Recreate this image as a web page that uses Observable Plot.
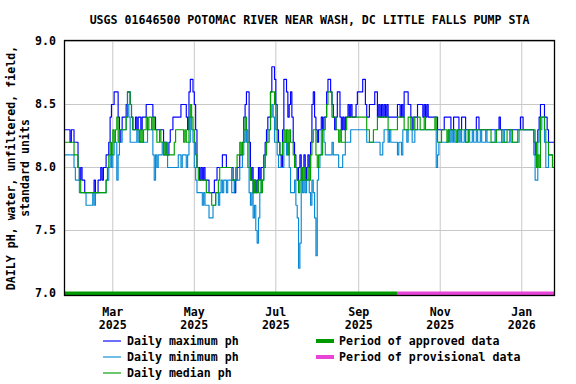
<!DOCTYPE html>
<html><head><meta charset="utf-8">
<script src="https://cdn.jsdelivr.net/npm/d3@7"></script>
<script src="https://cdn.jsdelivr.net/npm/@observablehq/plot@0.6"></script>
<style>
html,body{margin:0;padding:0;background:#fff;}
#chart{width:576px;height:384px;overflow:hidden;}
</style></head><body><div id="chart"></div>
<script>
const chartTitle = "USGS 01646500 POTOMAC RIVER NEAR WASH, DC LITTLE FALLS PUMP STA";
const yLabelLines = ["DAILY pH, water, unfiltered, field,", "standard units"];
const firstDay = "2025-01-24";
const seriesNames = ["Daily maximum ph", "Daily minimum ph", "Daily median ph"];
const seriesColors = ["#0000ff", "#0a8ad4", "#00a000"];

const dailyMax = [
8.3,8.3,8.3,8.3,8.2,8.3,8.3,8.2,8.2,8.2,
8.0,7.9,8.0,7.9,7.9,7.8,7.8,7.8,7.8,7.8,
7.8,7.8,7.9,7.8,7.8,7.9,7.9,8.0,7.9,8.0,
8.0,8.1,8.1,8.2,8.4,8.5,8.5,8.6,8.6,8.6,
8.4,8.2,8.3,8.4,8.4,8.4,8.5,8.6,8.6,8.5,
8.4,8.3,8.3,8.4,8.3,8.4,8.4,8.3,8.4,8.4,
8.4,8.5,8.5,8.5,8.5,8.5,8.4,8.4,8.3,8.3,
8.3,8.3,8.3,8.3,8.2,8.2,8.1,8.1,8.2,8.3,
8.3,8.4,8.4,8.4,8.4,8.4,8.4,8.5,8.5,8.5,
8.5,8.4,8.3,8.6,8.7,8.7,8.6,8.5,8.3,8.0,
8.0,7.9,8.0,7.9,8.0,7.9,7.9,7.9,7.8,7.8,
7.8,7.8,7.9,7.9,8.0,8.0,8.0,8.0,8.1,8.1,
8.1,8.0,8.0,8.0,8.0,8.0,7.9,7.8,7.9,8.0,
8.0,8.1,8.1,8.2,8.4,8.5,8.6,8.6,8.2,7.9,
8.0,7.8,7.9,7.8,7.9,8.0,7.9,8.0,8.0,8.1,
8.2,8.3,8.4,8.4,8.6,8.8,8.8,8.7,8.5,8.3,
8.2,8.1,8.0,8.3,8.7,8.7,8.6,8.4,8.5,8.6,
8.4,8.2,8.1,8.0,7.9,8.0,8.1,7.9,8.0,8.1,
7.9,8.0,8.1,8.0,8.2,8.5,8.6,8.4,8.3,8.2,
8.3,8.3,8.4,8.3,8.4,8.4,8.6,8.7,8.7,8.6,
8.5,8.4,8.3,8.4,8.6,8.6,8.4,8.3,8.4,8.3,
8.4,8.4,8.5,8.4,8.5,8.4,8.4,8.4,8.5,8.6,
8.6,8.6,8.6,8.7,8.7,8.5,8.4,8.4,8.5,8.5,
8.5,8.5,8.6,8.6,8.4,8.5,8.4,8.5,8.4,8.5,
8.4,8.5,8.4,8.4,8.4,8.4,8.4,8.4,8.4,8.5,
8.5,8.4,8.5,8.4,8.6,8.6,8.6,8.5,8.5,8.4,
8.3,8.4,8.4,8.4,8.5,8.5,8.5,8.5,8.4,8.5,
8.4,8.5,8.4,8.4,8.4,8.4,8.4,8.4,8.4,8.3,
8.3,8.3,8.3,8.3,8.4,8.4,8.4,8.4,8.4,8.3,
8.3,8.4,8.4,8.4,8.4,8.3,8.3,8.4,8.4,8.4,
8.3,8.3,8.3,8.3,8.3,8.3,8.3,8.3,8.4,8.4,
8.3,8.3,8.3,8.3,8.3,8.3,8.3,8.3,8.3,8.3,
8.3,8.3,8.3,8.3,8.3,8.4,8.3,8.3,8.3,8.3,
8.3,8.3,8.3,8.3,8.3,8.3,8.3,8.3,8.3,8.3,
8.3,8.4,8.4,8.3,8.3,8.3,8.3,8.3,8.3,8.3,
8.3,8.2,8.1,8.2,8.3,8.4,8.5,8.5,8.5,8.4,
8.4,8.3,8.2,8.2,8.2,8.2,8.2
];

const dailyMin = [
8.1,8.1,8.1,8.1,8.1,8.1,8.1,8.0,7.9,7.9,
7.9,7.8,7.8,7.8,7.8,7.8,7.7,7.7,7.7,7.7,
7.7,7.8,7.7,7.8,7.8,7.8,7.8,7.8,7.8,7.8,
7.8,7.9,7.9,8.0,8.1,8.0,8.1,8.2,8.2,7.9,
8.1,8.2,8.2,8.3,8.3,8.3,8.4,8.5,8.4,8.2,
8.2,8.2,8.2,8.2,8.3,8.2,8.2,8.2,8.2,8.2,
8.2,8.2,8.3,8.3,8.3,8.3,8.1,7.9,8.1,8.0,
8.1,8.1,8.1,8.2,8.1,8.1,8.2,8.0,8.0,8.0,
8.0,8.0,8.0,8.0,8.0,8.1,8.1,8.0,8.1,8.1,
8.1,8.0,8.1,8.2,8.4,8.3,8.2,8.0,7.9,7.8,
7.8,7.8,7.8,7.7,7.8,7.7,7.7,7.7,7.6,7.6,
7.6,7.7,7.7,7.8,7.8,7.7,7.8,7.9,7.8,7.9,
7.9,7.8,7.9,7.9,7.9,7.8,7.8,7.9,7.9,7.9,
7.9,8.0,8.0,8.1,8.2,8.3,8.2,8.0,7.8,7.7,
7.8,7.6,7.7,7.5,7.4,7.6,7.8,7.9,7.9,8.0,
8.1,8.2,8.3,8.3,8.4,8.5,8.4,8.2,8.2,8.1,
8.0,8.0,8.0,8.0,8.2,8.2,8.1,8.2,8.0,7.8,
7.8,7.8,7.9,7.7,7.6,7.2,7.4,7.9,7.8,7.9,
7.8,7.9,7.9,7.8,7.7,7.9,7.8,7.6,7.3,7.9,
8.0,8.1,8.3,8.3,8.2,8.1,8.1,8.1,8.1,8.1,
8.2,8.1,8.1,8.1,8.1,8.0,8.0,8.0,8.1,8.1,
8.2,8.2,8.2,8.2,8.3,8.3,8.3,8.3,8.3,8.3,
8.3,8.3,8.3,8.3,8.3,8.3,8.2,8.2,8.2,8.2,
8.2,8.2,8.2,8.2,8.2,8.2,8.1,8.1,8.2,8.3,
8.3,8.3,8.2,8.3,8.2,8.2,8.2,8.2,8.2,8.1,
8.2,8.2,8.1,8.3,8.3,8.3,8.2,8.3,8.3,8.3,
8.2,8.2,8.3,8.3,8.3,8.3,8.3,8.3,8.3,8.3,
8.3,8.3,8.3,8.3,8.3,8.3,8.3,8.3,8.0,8.1,
8.2,8.2,8.2,8.2,8.2,8.2,8.2,8.3,8.2,8.3,
8.2,8.3,8.2,8.2,8.3,8.2,8.3,8.2,8.2,8.3,
8.2,8.2,8.3,8.2,8.2,8.3,8.2,8.2,8.3,8.2,
8.2,8.3,8.2,8.2,8.2,8.3,8.2,8.2,8.2,8.2,
8.2,8.2,8.3,8.2,8.2,8.2,8.2,8.2,8.3,8.2,
8.2,8.2,8.2,8.3,8.2,8.2,8.2,8.2,8.2,8.2,
8.3,8.3,8.3,8.3,8.3,8.3,8.3,8.3,8.3,8.3,
8.3,8.1,7.9,7.9,8.2,8.3,8.3,8.4,8.4,8.2,
8.0,8.0,8.1,8.1,8.1,8.0,8.0
];

const dailyMedian = [
8.2,8.2,8.2,8.2,8.2,8.2,8.2,8.1,8.1,8.1,
8.0,7.9,7.8,7.8,7.8,7.8,7.8,7.8,7.8,7.8,
7.8,7.8,7.8,7.8,7.8,7.8,7.8,7.8,7.8,7.8,
7.8,7.9,8.0,8.1,8.2,8.1,8.3,8.2,8.3,8.4,
8.2,8.3,8.3,8.3,8.3,8.3,8.4,8.6,8.6,8.5,
8.4,8.3,8.3,8.3,8.3,8.3,8.2,8.3,8.2,8.3,
8.3,8.4,8.3,8.4,8.4,8.3,8.4,8.3,8.3,8.2,
8.2,8.3,8.2,8.2,8.1,8.2,8.1,8.1,8.1,8.1,
8.1,8.1,8.2,8.3,8.3,8.3,8.3,8.3,8.3,8.2,
8.3,8.2,8.2,8.4,8.5,8.4,8.3,8.2,8.1,8.0,
7.9,7.9,7.9,7.9,7.9,7.9,7.8,7.8,7.8,7.8,
7.7,7.7,7.7,7.8,7.8,7.9,8.0,8.0,8.0,8.0,
8.0,8.0,8.0,8.0,8.0,7.9,7.9,7.9,8.0,8.1,
8.1,8.2,8.1,8.2,8.3,8.4,8.3,8.2,8.0,7.9,
7.9,7.8,7.9,7.8,7.8,7.9,7.9,7.8,7.9,8.0,
8.1,8.2,8.2,8.3,8.6,8.6,8.6,8.5,8.3,8.2,
8.2,8.1,8.1,8.2,8.3,8.2,8.3,8.1,8.3,8.2,
8.2,8.1,8.0,8.0,7.9,7.8,7.9,8.0,7.9,8.0,
7.9,7.9,8.0,7.9,8.1,8.2,8.3,8.3,8.1,8.0,
8.1,8.1,8.1,8.3,8.3,8.4,8.5,8.6,8.6,8.6,
8.4,8.4,8.4,8.3,8.3,8.2,8.3,8.2,8.2,8.2,
8.3,8.4,8.4,8.4,8.4,8.4,8.4,8.4,8.4,8.4,
8.4,8.4,8.4,8.4,8.4,8.4,8.3,8.3,8.2,8.2,
8.2,8.3,8.3,8.3,8.4,8.4,8.4,8.4,8.4,8.4,
8.4,8.4,8.3,8.3,8.3,8.3,8.3,8.3,8.3,8.4,
8.4,8.4,8.4,8.4,8.3,8.3,8.3,8.4,8.4,8.3,
8.3,8.4,8.3,8.3,8.4,8.4,8.3,8.3,8.3,8.4,
8.3,8.3,8.3,8.3,8.3,8.3,8.3,8.4,8.3,8.2,
8.2,8.2,8.3,8.3,8.3,8.3,8.2,8.3,8.3,8.3,
8.3,8.3,8.3,8.2,8.3,8.3,8.3,8.3,8.3,8.3,
8.2,8.2,8.3,8.3,8.3,8.3,8.3,8.3,8.3,8.3,
8.3,8.3,8.3,8.3,8.3,8.3,8.3,8.3,8.3,8.2,
8.2,8.2,8.2,8.3,8.3,8.3,8.3,8.2,8.2,8.2,
8.2,8.3,8.3,8.3,8.3,8.2,8.2,8.2,8.2,8.3,
8.3,8.3,8.3,8.3,8.3,8.3,8.3,8.3,8.3,8.3,
8.3,8.3,8.2,8.0,8.1,8.0,8.4,8.4,8.4,8.3,
8.2,8.2,8.1,8.1,8.1,8.0,8.0
];

const xDomain = ["2025-01-23T21:00Z", "2026-01-25T12:00Z"];
const yDomain = [6.984, 9.008];
const xTickDates = ["2025-03-01", "2025-05-01", "2025-07-01", "2025-09-01", "2025-11-01", "2026-01-01"];
const xTickLabels = ["Mar\n2025", "May\n2025", "Jul\n2025", "Sep\n2025", "Nov\n2025", "Jan\n2026"];
const yTicks = [7.0, 7.5, 8.0, 8.5, 9.0];

const periodNames = ["Period of approved data", "Period of provisional data"];
const periodStarts = ["2025-01-23T21:00Z", "2025-09-30"];
const periodEnds = ["2025-09-30", "2026-01-25T12:00Z"];
const periodColors = ["#009a00", "#e845d8"];

// ---- build tables ----
const parseDay = s => new Date(s.length === 10 ? s + "T00:00Z" : s);
const start = parseDay(firstDay);
const seriesValues = [dailyMax, dailyMin, dailyMedian];
const rows = [];
seriesValues.forEach((arr, k) => {
  arr.forEach((v, i) => rows.push({date: d3.utcDay.offset(start, i), value: v, series: seriesNames[k]}));
});
const periods = periodNames.map((n, i) => ({name: n, start: parseDay(periodStarts[i]), end: parseDay(periodEnds[i])}));
const ticksX = xTickDates.map(parseDay);
const labelMap = new Map(ticksX.map((d, i) => [+d, xTickLabels[i]]));

const FONT = "'DejaVu Sans Mono', 'Liberation Mono', monospace";

const plot = Plot.plot({
  width: 576,
  height: 384,
  marginLeft: 64,
  marginRight: 22,
  marginTop: 40,
  marginBottom: 89,
  style: {fontFamily: FONT, fontSize: "11.6px", fontWeight: "bold", color: "black", background: "white", overflow: "visible"},
  x: {type: "utc", domain: xDomain.map(parseDay)},
  y: {domain: yDomain},
  color: {domain: seriesNames, range: seriesColors},
  marks: [
    Plot.gridX(ticksX, {stroke: "#c8c8c8", strokeOpacity: 1, strokeWidth: 1}),
    Plot.gridY(yTicks, {stroke: "#c8c8c8", strokeOpacity: 1, strokeWidth: 1}),
    Plot.line(rows, {x: "date", y: "value", z: "series", stroke: "series", curve: "step-after", strokeWidth: 1.15}),
    Plot.ruleY(periods, {y: () => yTicks[0], x1: "start", x2: "end", stroke: (d, i) => periodColors[i], strokeWidth: 4}),
    Plot.frame({stroke: "black", strokeWidth: 1.3}),
    Plot.axisY(yTicks, {tickSize: 0, tickPadding: 8.5, tickFormat: d => d.toFixed(1), label: null}),
    Plot.axisX(ticksX, {tickSize: 0, tickPadding: 11, tickFormat: d => labelMap.get(+d), label: null, lineHeight: 1.12}),
    Plot.text([chartTitle], {frameAnchor: "top", lineAnchor: "middle", textAnchor: "middle", dy: -20, text: d => d}),
    Plot.text([yLabelLines[0]], {frameAnchor: "left", lineAnchor: "middle", textAnchor: "middle", rotate: -90, dx: -53, text: d => d}),
    Plot.text([yLabelLines[1]], {frameAnchor: "left", lineAnchor: "middle", textAnchor: "middle", rotate: -90, dx: -39.5, text: d => d})
  ]
});
document.getElementById("chart").appendChild(plot);

// ---- legend ----
const svg = d3.select(plot);
const leg = svg.append("g").attr("font-family", FONT).attr("font-size", "11.6px").attr("font-weight", "bold")
  .attr("fill", "black").attr("text-anchor", "start");
const rowY = [341, 357, 373];
seriesNames.forEach((name, i) => {
  leg.append("line").attr("x1", 103).attr("x2", 121).attr("y1", rowY[i]).attr("y2", rowY[i])
    .attr("stroke", seriesColors[i]).attr("stroke-width", 1.15);
  leg.append("text").attr("x", 127).attr("y", rowY[i] + 4).text(name);
});
periodNames.forEach((name, i) => {
  leg.append("line").attr("x1", 316).attr("x2", 334).attr("y1", rowY[i]).attr("y2", rowY[i])
    .attr("stroke", periodColors[i]).attr("stroke-width", 4);
  leg.append("text").attr("x", 339).attr("y", rowY[i] + 4).text(name);
});
</script>
</body></html>
